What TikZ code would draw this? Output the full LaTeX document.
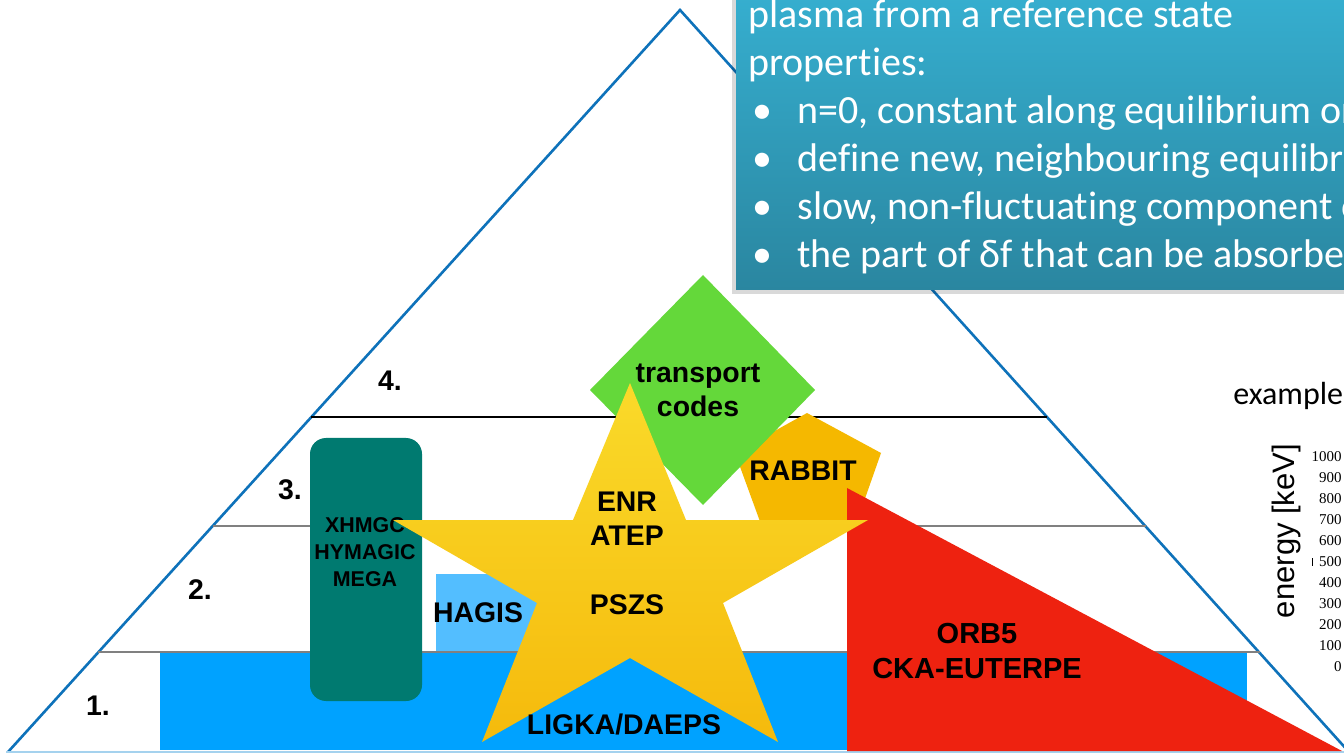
\documentclass[tikz,border=0pt]{standalone}
\usepackage{fontspec}
\newfontfamily\helvfam{Liberation Sans}
\newfontfamily\carlfam[Ligatures=NoCommon]{Carlito}
\newfontfamily\timesfam{Liberation Serif}
\definecolor{triblue}{RGB}{14,114,186}
\definecolor{baseblue}{RGB}{165,210,238}
\definecolor{lvlgray}{RGB}{128,128,128}
\definecolor{rectblue}{RGB}{0,162,255}
\definecolor{hagisblue}{RGB}{83,190,255}
\definecolor{tealc}{RGB}{0,122,112}
\definecolor{starTop}{RGB}{250,218,42}
\definecolor{starBot}{RGB}{245,186,12}
\definecolor{greenc}{RGB}{100,216,58}
\definecolor{rabbitc}{RGB}{245,184,0}
\definecolor{redc}{RGB}{238,34,16}
\definecolor{boxTop}{RGB}{54,175,208}
\definecolor{boxBot}{RGB}{42,134,160}
\begin{document}
\begin{tikzpicture}[x=0.5pt,y=-0.5pt,
  lbl/.style={font=\helvfam\bfseries\fontsize{14.2}{17}\selectfont, text=black, align=center, inner sep=0pt},
  smalllbl/.style={font=\helvfam\bfseries\fontsize{10.7}{13.5}\selectfont, text=black, align=center, inner sep=0pt},
  boxtxt/.style={font=\carlfam\fontsize{20}{24}\selectfont, text=white, inner sep=0pt, anchor=base west},
  tick/.style={font=\timesfam\fontsize{7.5}{9}\selectfont, text=black, inner sep=0pt, anchor=east},
  level/.style={lvlgray, line width=1.2pt}]
\clip (0,0) rectangle (1344,753);
\fill[white] (0,0) rectangle (1344,753);

% pyramid
\draw[triblue, line width=1.3pt, line join=miter] (8,752) -- (680,10) -- (1349,752);
\draw[baseblue, line width=1pt] (6,752) -- (1344,752);
\draw[black, line width=0.7pt] (311,417) -- (1047,417);
\draw[level] (213,526) -- (1146,526);
\draw[level] (98,652) -- (1260,652);

% level 1 band
\fill[rectblue] (160,653) rectangle (1247,750);

% XHMGC box
\node[fill=tealc, rounded corners=8pt, minimum width=56pt, minimum height=131.5pt, inner sep=0pt] (tealbox) at (366,569.5) {};
\node[smalllbl] (xhmgc) at (365,552) {XHMGC\\HYMAGIC\\MEGA};

% HAGIS box
\fill[hagisblue] (436,574) rectangle (560,651);
\node[lbl] (hagis) at (478,613) {HAGIS};

% RABBIT pentagon
\fill[rabbitc] (807,413) -- (881,453) -- (855,527) -- (762,527) -- (735,453) -- cycle;
\node[lbl] (rabbit) at (803,471) {RABBIT};

% red triangle
\fill[redc] (847,488) -- (847,751) -- (1342,751) -- cycle;
\node[lbl, font=\helvfam\bfseries\fontsize{14.5}{17.5}\selectfont] (orb) at (977,651.5) {ORB5\\CKA-EUTERPE};

% transport diamond
\fill[greenc] (703,275) -- (815,390) -- (703,505) -- (590,390) -- cycle;
\node[lbl] (transport) at (698,390) {transport\\codes};

% star
\shade[top color=starTop, bottom color=starBot]
  (630,383) -- (686,520) -- (868,520) -- (723,603) -- (778,742) -- (630,658)
  -- (482,742) -- (537,603) -- (393,520) -- (573,520) -- cycle;
\node[lbl] (enr) at (627,518.5) {ENR\\ATEP};
\node[lbl] (pszs) at (627,605) {PSZS};
\node[lbl] (ligka) at (624,724) {LIGKA/DAEPS};

% level numbers
\node[lbl] (l4) at (390,381) {4.};
\node[lbl] (l3) at (290,490) {3.};
\node[lbl] (l2) at (200,590) {2.};
\node[lbl] (l1) at (98,706) {1.};

% text box
\fill[black, opacity=0.15] (732,-10) rectangle (1360,294);
\shade[top color=boxTop, bottom color=boxBot] (736,-10) rectangle (1360,290);
\node[boxtxt] (t1) at (748,28) {plasma from a reference state};
\node[boxtxt] (t2) at (748,76) {properties:};
\node[boxtxt] (b1) at (752,124) {•};
\node[boxtxt] (b2) at (752,172) {•};
\node[boxtxt] (b3) at (752,220) {•};
\node[boxtxt] (b4) at (752,268) {•};
\node[boxtxt] (t3) at (797,124) {n=0, constant along equilibrium orbits};
\node[boxtxt] (t4) at (797,172) {define new, neighbouring equilibrium};
\node[boxtxt] (t5) at (797,220) {slow, non-fluctuating component of δf};
\node[boxtxt] (t6) at (797,268) {the part of δf that can be absorbed};

% example plot axis
\node[font=\carlfam\fontsize{16}{19}\selectfont, inner sep=0pt, anchor=base west] (example) at (1233,405) {example};
\node[font=\helvfam\fontsize{15.5}{18}\selectfont, inner sep=0pt, rotate=90] (energy) at (1286,531) {energy [keV]};
\node[tick] (k1000) at (1342,457) {1000};
\node[tick] (k900) at (1342,478) {900};
\node[tick] (k800) at (1342,499) {800};
\node[tick] (k700) at (1342,520) {700};
\node[tick] (k600) at (1342,541) {600};
\node[tick] (k500) at (1342,562) {500};
\node[tick] (k400) at (1342,583) {400};
\node[tick] (k300) at (1342,604) {300};
\node[tick] (k200) at (1342,625) {200};
\node[tick] (k100) at (1342,646) {100};
\node[tick] (k0) at (1342,667) {0};
\coordinate (tm1) at (1312,558);
\coordinate (tm2) at (1312,566);
\draw[black, line width=0.3pt] (tm1) -- (tm2);
\end{tikzpicture}
\end{document}
